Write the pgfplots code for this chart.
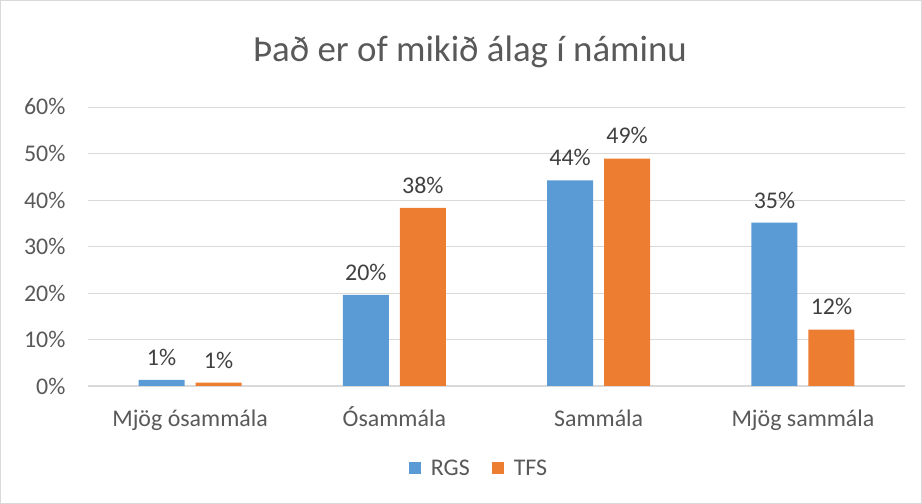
\documentclass[border=0pt]{standalone}
\usepackage{pgfplots}
\pgfplotsset{compat=1.18}
\usepackage{fontspec}
\setmainfont{Carlito}
\definecolor{rgs}{HTML}{5B9BD5}
\definecolor{tfs}{HTML}{ED7D31}
\definecolor{txt}{HTML}{595959}
\definecolor{lbl}{HTML}{404040}
\definecolor{grd}{HTML}{D9D9D9}
\begin{document}
\begin{tikzpicture}
\draw[grd, line width=0.8bp] (0.5bp,0.5bp) rectangle (921.5bp,503.5bp);
\node[font=\fontsize{37}{42}\selectfont, text=txt] at (470bp,452bp) {Það er of mikið álag í náminu};
\begin{axis}[
  at={(88bp,118bp)}, anchor=south west,
  scale only axis, width=817bp, height=279bp,
  ymin=0, ymax=60, ytick={0,10,...,60},
  yticklabel={\pgfmathprintnumber{\tick}\%},
  xmin=-0.5, xmax=3.5,
  xtick={0,1,2,3},
  xticklabels={Mjög ósammála, Ósammála, Sammála, Mjög sammála},
  /pgf/number format/assume math mode=true,
  tick label style={font=\fontsize{24}{28}\selectfont, text=txt},
  xticklabel style={yshift=-20bp, text height=17bp, text depth=5bp},
  yticklabel style={xshift=-19bp},
  major tick length=0pt,
  axis x line*=bottom, axis y line*=left,
  x axis line style={draw=grd, line width=1bp, -},
  y axis line style={draw=none},
  ymajorgrids, grid style={draw=grd, line width=0.8bp},
  ybar, bar width=46bp,
  nodes near coords={\pgfmathprintnumber{\pgfplotspointmeta}\%},
  nodes near coords style={font=\fontsize{24}{28}\selectfont, text=lbl, /pgf/number format/fixed, /pgf/number format/precision=0, yshift=11bp},
  legend style={at={(0.4786,-0.294)}, anchor=center, draw=none, font=\fontsize{24}{28}\selectfont, text=txt, legend columns=2, /tikz/every odd column/.append style={column sep=8bp}, /tikz/every even column/.append style={column sep=20bp}},
  legend image code/.code={\fill[#1] (0bp,-6bp) rectangle (12bp,6bp);},
]
\addplot[fill=rgs, draw=none, bar shift=-28.5bp] coordinates {(0,1.3) (1,19.6) (2,44.2) (3,35.1)};
\addplot[fill=tfs, draw=none, bar shift=28.5bp] coordinates {(0,0.7) (1,38.3) (2,48.9) (3,12.1)};
\legend{RGS, TFS}
\end{axis}
\end{tikzpicture}
\end{document}
